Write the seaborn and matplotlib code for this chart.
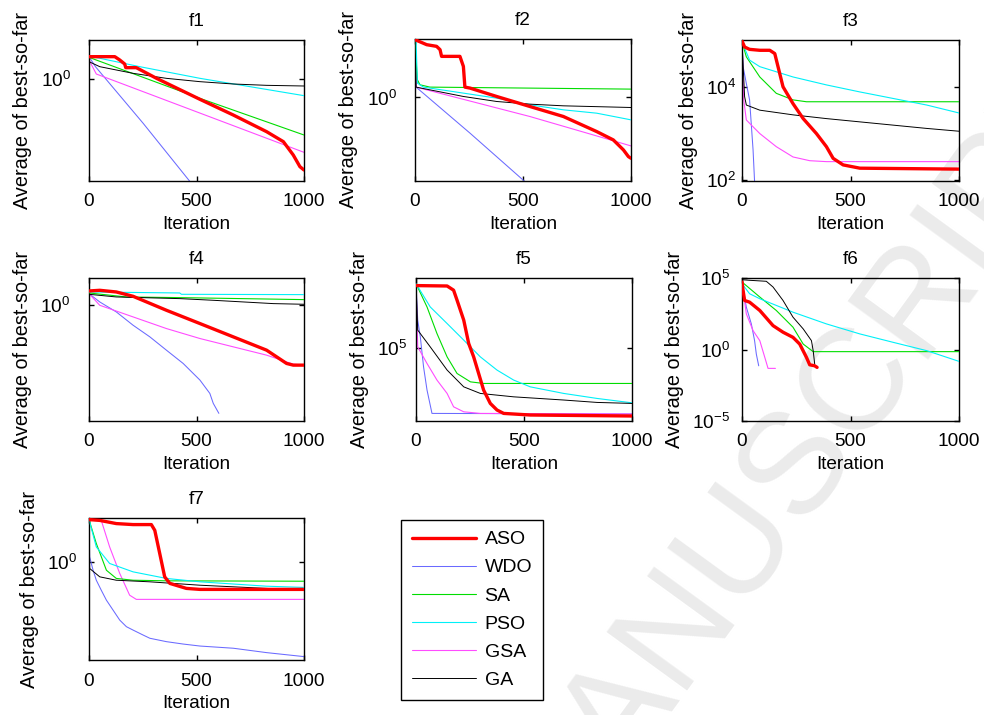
import numpy as np
import matplotlib
matplotlib.use("Agg")
import matplotlib.pyplot as plt
from matplotlib.ticker import NullLocator, FixedLocator
import seaborn as sns

# ---------------- data (iteration, log10 of average best-so-far) ----------------
ALGOS = ["ASO", "WDO", "SA", "PSO", "GSA", "GA"]
PANELS = ["f1", "f2", "f3", "f4", "f5", "f6", "f7"]

# f1
f1_ASO_it = [0, 120, 143, 166, 171, 220, 314, 516, 671, 826, 904, 950, 981, 1000]
f1_ASO_lg = [3.35, 3.35, 2.85, 2.25, 1.7, 1.7, 0.1, -3.05, -5.4, -7.9, -9.4, -11.4, -13.15, -13.65]
f1_WDO_it = [0, 30, 252, 470]
f1_WDO_lg = [3.35, 1.85, -6.65, -15.4]
f1_SA_it = [0, 516, 1000]
f1_SA_lg = [3.25, -2.9, -8.4]
f1_PSO_it = [0, 236, 516, 1000]
f1_PSO_lg = [3.45, 1.85, 0.1, -2.5]
f1_GSA_it = [0, 34, 1000]
f1_GSA_lg = [2.85, 0.75, -11.0]
f1_GA_it = [0, 50, 205, 360, 516, 671, 826, 1000]
f1_GA_lg = [2.6, 1.85, 0.85, 0.1, -0.4, -0.75, -0.95, -1.05]

# f2
f2_ASO_it = [0, 54, 100, 116, 123, 208, 224, 231, 255, 378, 532, 687, 841, 918, 965, 988, 1000]
f2_ASO_lg = [8.65, 7.9, 7.65, 7.15, 6.15, 6.15, 4.65, 1.55, 1.4, 0.15, -1.35, -2.85, -5.1, -6.35, -7.85, -8.85, -9.1]
f2_WDO_it = [0, 5, 255, 509]
f2_WDO_lg = [8.65, 1.55, -5.35, -12.6]
f2_SA_it = [0, 5, 11, 23, 69, 1000]
f2_SA_lg = [8.75, 5.65, 2.65, 1.9, 1.55, 1.25]
f2_PSO_it = [0, 5, 11, 39, 224, 378, 532, 687, 841, 1000]
f2_PSO_lg = [8.75, 8.4, 2.15, 1.55, 0.65, -0.1, -1.1, -1.85, -2.35, -3.35]
f2_GSA_it = [0, 5, 532, 1000]
f2_GSA_lg = [8.65, 1.55, -2.85, -7.25]
f2_GA_it = [0, 5, 224, 378, 532, 687, 1000]
f2_GA_lg = [8.65, 1.55, 0.15, -0.6, -1.0, -1.25, -1.5]

# f3
f3_ASO_it = [0, 12, 35, 82, 128, 151, 166, 189, 235, 282, 343, 389, 420, 466, 543, 1000]
f3_ASO_lg = [4.98, 4.85, 4.8, 4.78, 4.78, 4.71, 4.43, 4.0, 3.64, 3.32, 3.0, 2.72, 2.47, 2.33, 2.26, 2.24]
f3_WDO_it = [0, 5, 20, 35, 51, 58]
f3_WDO_lg = [4.96, 4.43, 4.07, 3.72, 2.65, 1.97]
f3_SA_it = [0, 20, 82, 158, 235, 297, 1000]
f3_SA_lg = [4.96, 4.64, 4.21, 3.86, 3.72, 3.68, 3.68]
f3_PSO_it = [0, 35, 82, 235, 389, 543, 697, 851, 1000]
f3_PSO_lg = [4.96, 4.57, 4.43, 4.21, 4.04, 3.89, 3.75, 3.61, 3.44]
f3_GSA_it = [0, 8, 20, 82, 158, 235, 312, 389, 1000]
f3_GSA_lg = [4.96, 3.72, 3.29, 3.0, 2.72, 2.5, 2.42, 2.4, 2.4]
f3_GA_it = [0, 12, 20, 82, 235, 389, 543, 697, 851, 1000]
f3_GA_lg = [4.96, 3.79, 3.61, 3.5, 3.4, 3.32, 3.25, 3.18, 3.11, 3.05]

# f4
f4_ASO_it = [0, 50, 127, 205, 360, 516, 671, 826, 919, 950, 1000]
f4_ASO_lg = [2.15, 2.25, 2.0, 1.35, -0.75, -2.75, -4.75, -6.75, -8.75, -9.0, -9.0]
f4_WDO_it = [0, 50, 127, 205, 283, 360, 438, 516, 562, 578, 604]
f4_WDO_lg = [1.75, 0.5, -1.0, -3.0, -4.75, -6.75, -8.75, -11.25, -13.25, -14.75, -16.25]
f4_SA_it = [0, 174, 422, 1000]
f4_SA_lg = [1.85, 1.25, 1.15, 0.85]
f4_PSO_it = [0, 422, 430, 1000]
f4_PSO_lg = [2.0, 1.85, 1.65, 1.6]
f4_GSA_it = [0, 50, 205, 360, 516, 671, 826, 950, 1000]
f4_GSA_lg = [1.75, 0.0, -1.75, -3.5, -5.0, -6.25, -7.5, -8.85, -9.0]
f4_GA_it = [0, 127, 422, 578, 857, 1000]
f4_GA_lg = [1.65, 1.25, 1.0, 0.75, 0.25, 0.15]

# f5
f5_ASO_it = [0, 144, 174, 190, 221, 244, 267, 290, 313, 344, 375, 406, 529, 1000]
f5_ASO_lg = [8.1, 8.08, 7.87, 7.37, 6.37, 5.2, 4.53, 3.7, 2.87, 2.2, 1.87, 1.7, 1.62, 1.57]
f5_WDO_it = [0, 8, 20, 35, 51, 74, 1000]
f5_WDO_lg = [8.2, 6.37, 5.53, 4.03, 2.87, 1.7, 1.67]
f5_SA_it = [0, 51, 97, 144, 190, 252, 313, 1000]
f5_SA_lg = [8.2, 7.03, 5.7, 4.53, 3.7, 3.28, 3.2, 3.2]
f5_PSO_it = [0, 66, 144, 221, 298, 375, 452, 529, 684, 838, 1000]
f5_PSO_lg = [8.2, 7.03, 6.2, 5.37, 4.53, 3.87, 3.37, 3.03, 2.7, 2.45, 2.23]
f5_GSA_it = [0, 8, 51, 97, 144, 174, 221, 298, 1000]
f5_GSA_lg = [8.2, 5.03, 4.2, 3.37, 2.7, 2.03, 1.78, 1.7, 1.67]
f5_GA_it = [0, 8, 66, 144, 221, 298, 452, 684, 838, 1000]
f5_GA_lg = [8.2, 5.87, 5.03, 3.87, 3.03, 2.7, 2.53, 2.37, 2.25, 2.2]

# f6
f6_ASO_it = [0, 5, 12, 35, 82, 143, 189, 235, 266, 297, 312, 335, 346]
f6_ASO_lg = [4.72, 4.13, 3.43, 3.31, 2.73, 1.67, 1.21, 0.85, 0.38, -0.55, -1.07, -1.14, -1.25]
f6_WDO_it = [0, 20, 43, 58, 66, 77]
f6_WDO_lg = [4.72, 2.96, 1.79, 0.62, -0.32, -1.14]
f6_SA_it = [0, 82, 158, 235, 282, 328, 1000]
f6_SA_lg = [4.72, 3.67, 2.73, 1.56, 0.38, -0.15, -0.15]
f6_PSO_it = [0, 35, 82, 235, 389, 543, 697, 851, 1000]
f6_PSO_lg = [4.6, 3.9, 3.55, 2.61, 1.79, 1.09, 0.5, -0.08, -0.83]
f6_GSA_it = [0, 20, 51, 82, 105, 120, 154]
f6_GSA_lg = [4.72, 2.49, 1.32, 0.62, -0.55, -1.32, -1.32]
f6_GA_it = [0, 35, 112, 143, 189, 235, 282, 320, 328, 335]
f6_GA_lg = [4.88, 4.84, 4.77, 4.37, 3.43, 2.26, 1.44, 0.62, -0.08, -1.02]

# f7
f7_ASO_it = [0, 50, 127, 205, 290, 306, 329, 352, 376, 453, 516, 1000]
f7_ASO_lg = [2.12, 2.08, 1.92, 1.87, 1.87, 1.58, 0.42, -0.75, -1.08, -1.33, -1.38, -1.38]
f7_WDO_it = [0, 3, 19, 34, 57, 81, 112, 143, 174, 205, 252, 283, 360, 438, 516, 671, 826, 1000]
f7_WDO_lg = [2.1, 0.25, -0.42, -0.92, -1.42, -1.92, -2.42, -2.92, -3.25, -3.42, -3.67, -3.83,
             -4.0, -4.12, -4.22, -4.33, -4.55, -4.75]
f7_SA_it = [0, 34, 81, 127, 205, 360, 1000]
f7_SA_lg = [2.12, 0.92, -0.42, -0.83, -0.92, -0.95, -0.97]
f7_PSO_it = [0, 34, 96, 205, 360, 516, 826, 1000]
f7_PSO_lg = [2.12, 0.75, -0.08, -0.5, -0.83, -1.0, -1.22, -1.28]
f7_GSA_it = [0, 57, 96, 143, 189, 220, 1000]
f7_GSA_lg = [2.12, 2.08, 0.75, -0.58, -1.67, -1.88, -1.88]
f7_GA_it = [0, 3, 50, 127, 283, 516, 826, 1000]
f7_GA_lg = [2.12, -0.33, -0.75, -0.92, -1.0, -1.17, -1.33, -1.42]

# y-axis ranges and ticks (log10 exponents)
Y_LIMITS = {"f1": (-15.3, 5.85), "f2": (-12.5, 8.75), "f3": (1.986, 5.0), "f4": (-17.4, 4.1),
            "f5": (1.32, 8.48), "f6": (-5.0, 5.0), "f7": (-4.92, 2.2)}
Y_TICKS = {"f1": [0], "f2": [0], "f3": [2, 4], "f4": [0], "f5": [5], "f6": [-5, 0, 5], "f7": [0]}
X_TICKS = [0, 500, 1000]

# ---------------- style ----------------
COLORS = {"ASO": "#ff0000", "WDO": "#6a6aff", "SA": "#00dd00", "PSO": "#00f0f8",
          "GSA": "#ff4cff", "GA": "#000000"}
WIDTHS = {"ASO": 2.4, "WDO": 0.75, "SA": 0.8, "PSO": 0.8, "GSA": 0.8, "GA": 0.7}
ZORD = {"ASO": 6, "WDO": 2, "SA": 3, "PSO": 3, "GSA": 2, "GA": 4}

W, H = 984, 715
BOXES = {"f1": (89, 40, 304, 181), "f2": (415, 39, 631, 181), "f3": (742, 40, 959, 181),
         "f4": (89, 278, 304, 421), "f5": (416, 278, 632, 421), "f6": (742, 278, 959, 421),
         "f7": (89, 518, 304, 660)}
YPAD = {"f1": 13, "f2": 13, "f3": 4, "f4": 13.5, "f5": 6, "f6": 8.5, "f7": 8.5}
FS = 13.7

sns.set_theme(style="ticks")
plt.rcParams.update({
    "font.family": ["Liberation Sans", "DejaVu Sans"],
    "mathtext.fontset": "custom",
    "mathtext.rm": "Liberation Sans",
    "mathtext.it": "Liberation Sans:italic",
    "xtick.direction": "in", "ytick.direction": "in",
    "xtick.top": True, "ytick.right": True,
    "xtick.major.size": 3.5, "ytick.major.size": 3.5,
    "xtick.major.width": 1.0, "ytick.major.width": 1.0,
    "axes.edgecolor": "black", "axes.linewidth": 1.0,
    "xtick.color": "black", "ytick.color": "black",
    "text.color": "black", "axes.labelcolor": "black",
})

fig = plt.figure(figsize=(W / 100, H / 100), dpi=100)
fig.patch.set_facecolor("white")

# watermark of the source manuscript
fig.text(0.57, -0.12, "ACCEPTED MANUSCRIPT", rotation=54, rotation_mode="anchor",
         ha="center", va="center", fontsize=104, color="#ebebeb", zorder=-10)

data = globals()
handles = {}
for p in PANELS:
    l, t, r, b = BOXES[p]
    ax = fig.add_axes([l / W, (H - b) / H, (r - l) / W, (b - t) / H])
    ax.set_facecolor("none")
    for a in ALGOS:
        it = np.array(data[f"{p}_{a}_it"], dtype=float)
        val = 10.0 ** np.array(data[f"{p}_{a}_lg"], dtype=float)
        sns.lineplot(x=it, y=val, ax=ax, color=COLORS[a], linewidth=WIDTHS[a],
                     estimator=None, sort=False, zorder=ZORD[a], label=a, legend=False)
        handles[a] = ax.lines[-1]
    ax.set_yscale("log")
    lo, hi = Y_LIMITS[p]
    ax.set_ylim(10.0 ** lo, 10.0 ** hi)
    ax.set_xlim(0, 1000)
    ax.yaxis.set_major_locator(FixedLocator([10.0 ** e for e in Y_TICKS[p]]))
    ax.yaxis.set_minor_locator(NullLocator())
    ax.xaxis.set_major_locator(FixedLocator(X_TICKS))
    ax.tick_params(axis="x", labelsize=FS, pad=9)
    ax.tick_params(axis="y", labelsize=FS, pad=YPAD[p])
    ax.set_title(p, fontsize=FS, pad=10)
    ax.set_xlabel("Iteration", fontsize=FS, labelpad=4)
    ax.set_ylabel("Average of best-so-far", fontsize=14.3, labelpad=6)
    for s in ax.spines.values():
        s.set_visible(True)
        s.set_color("black")

leg = fig.legend([handles[a] for a in ALGOS], ALGOS, loc="upper left",
                 bbox_to_anchor=(401 / W, (H - 520) / H), borderaxespad=0,
                 fontsize=14, frameon=True, fancybox=False, framealpha=1,
                 edgecolor="black", handlelength=3.3, handletextpad=0.45,
                 labelspacing=0.54, borderpad=0.55)
leg.get_frame().set_linewidth(1.0)

fig.savefig("out.png", dpi=100, facecolor="white")
